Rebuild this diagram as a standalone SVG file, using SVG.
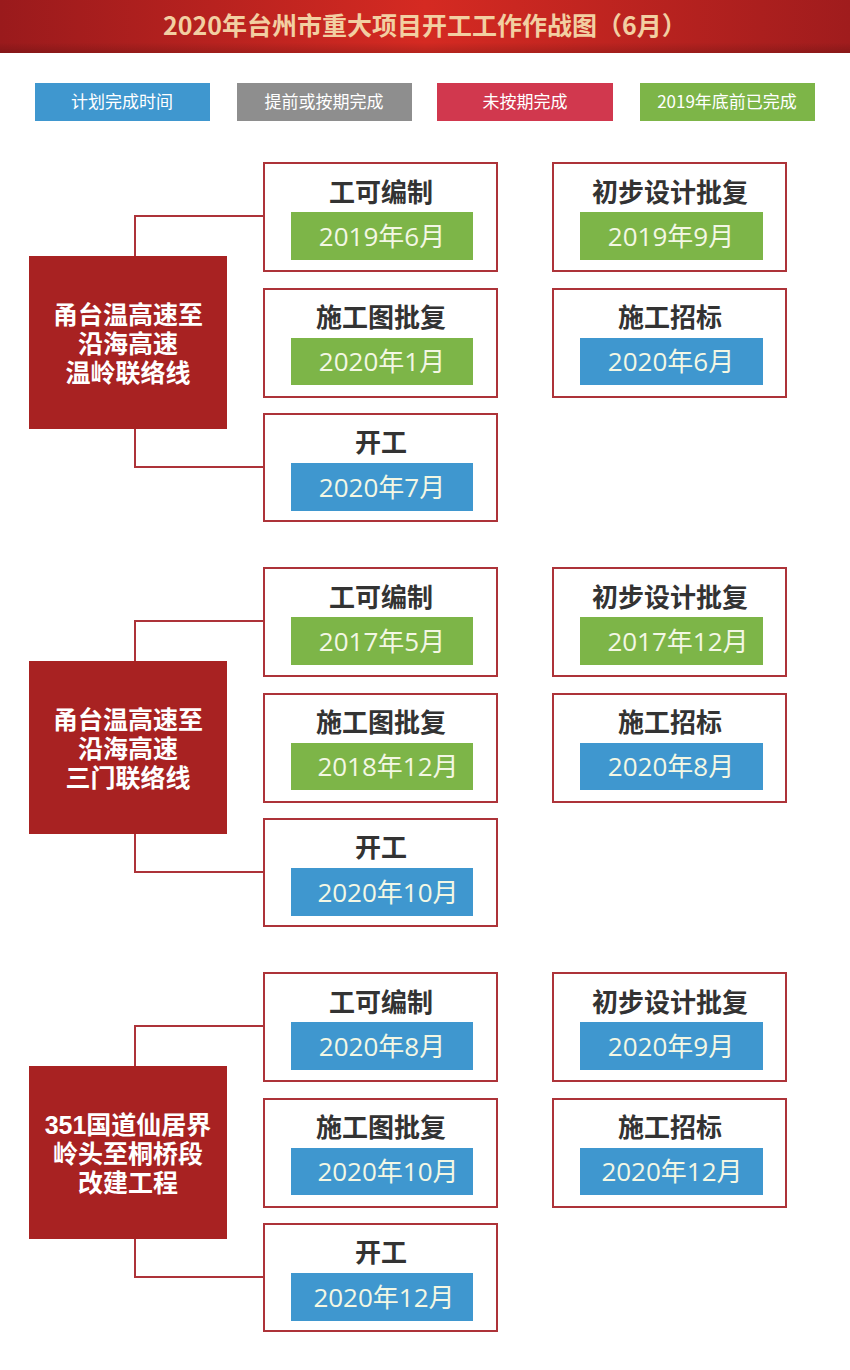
<svg xmlns="http://www.w3.org/2000/svg" width="850" height="1370" viewBox="0 0 850 1370">
<defs>
<linearGradient id="hdr" x1="0" y1="0" x2="1" y2="0">
<stop offset="0" stop-color="#9a1a1c"/>
<stop offset="0.5" stop-color="#d52a22"/>
<stop offset="1" stop-color="#a01c1d"/>
</linearGradient>
<linearGradient id="hdrshade" x1="0" y1="0" x2="0" y2="1">
<stop offset="0" stop-color="#000" stop-opacity="0"/>
<stop offset="0.8" stop-color="#000" stop-opacity="0"/>
<stop offset="1" stop-color="#000" stop-opacity="0.15"/>
</linearGradient>
</defs>
<style>
.box{fill:#fff;stroke:#ad3339;stroke-width:2}
.proj{fill:#a82222}
.lbl{font-family:"Noto Sans CJK SC","Noto Sans",sans-serif;font-weight:bold;font-size:26px;fill:#333;text-anchor:middle}
.date{font-family:"Open Sans","Noto Sans CJK SC",sans-serif;font-size:26px;fill:#f3f7e4;text-anchor:middle}
.ptxt{font-family:"Liberation Sans","Noto Sans CJK SC",sans-serif;font-weight:bold;font-size:25px;fill:#fff;text-anchor:middle}
.leg{font-family:"Noto Sans CJK SC","Noto Sans",sans-serif;font-size:17px;fill:#fff;text-anchor:middle}
.blue{fill:#3f97cf}
.green{fill:#7db548}
.gray{fill:#8e8e8e}
.pink{fill:#d1384e}
.conn{fill:none;stroke:#ad3339;stroke-width:2}
</style>
<rect width="850" height="1370" fill="#fff"/>
<g id="header">
<rect x="0" y="0" width="850" height="53" fill="url(#hdr)"/>
<rect x="0" y="0" width="850" height="53" fill="url(#hdrshade)"/>
<text x="425" y="35" font-family="Noto Sans CJK SC, Noto Sans, sans-serif" font-weight="bold" font-size="25" fill="#f2cfa2" text-anchor="middle">2020年台州市重大项目开工工作作战图（6月）</text>
</g>
<g id="legend">
<rect class="blue" x="35" y="83" width="175" height="38"/>
<text class="leg" x="122" y="108">计划完成时间</text>
<rect class="gray" x="237" y="83" width="175" height="38"/>
<text class="leg" x="324" y="108">提前或按期完成</text>
<rect class="pink" x="437" y="83" width="176" height="38"/>
<text class="leg" x="525" y="108">未按期完成</text>
<rect class="green" x="640" y="83" width="175" height="38"/>
<text class="leg" x="727" y="108">2019年底前已完成</text>
</g>
<g id="connectors">
<polyline class="conn" points="264,216 135,216 135,256"/>
<polyline class="conn" points="135,429 135,467 264,467"/>
<polyline class="conn" points="264,621 135,621 135,661"/>
<polyline class="conn" points="135,834 135,872 264,872"/>
<polyline class="conn" points="264,1026 135,1026 135,1066"/>
<polyline class="conn" points="135,1239 135,1277 264,1277"/>
</g>
<!-- Section 1 -->
<g id="p1">
<rect class="proj" x="29" y="256" width="198" height="173"/>
<text class="ptxt" x="128" y="324">甬台温高速至</text>
<text class="ptxt" x="128" y="353">沿海高速</text>
<text class="ptxt" x="128" y="382">温岭联络线</text>
</g>
<g id="p1-gk">
<rect class="box" x="264" y="163" width="233" height="108"/>
<text class="lbl" x="381" y="202">工可编制</text>
<rect class="green" x="291" y="212" width="182" height="48"/>
<text class="date" x="382" y="246">2019年6月</text>
</g>
<g id="p1-cb">
<rect class="box" x="553" y="163" width="233" height="108"/>
<text class="lbl" x="670" y="202">初步设计批复</text>
<rect class="green" x="580" y="212" width="183" height="48"/>
<text class="date" x="671" y="246">2019年9月</text>
</g>
<g id="p1-sg">
<rect class="box" x="264" y="289" width="233" height="108"/>
<text class="lbl" x="381" y="327">施工图批复</text>
<rect class="green" x="291" y="338" width="182" height="47"/>
<text class="date" x="382" y="371">2020年1月</text>
</g>
<g id="p1-zb">
<rect class="box" x="553" y="289" width="233" height="108"/>
<text class="lbl" x="670" y="327">施工招标</text>
<rect class="blue" x="580" y="338" width="183" height="47"/>
<text class="date" x="671" y="371">2020年6月</text>
</g>
<g id="p1-kg">
<rect class="box" x="264" y="414" width="233" height="107"/>
<text class="lbl" x="381" y="452">开工</text>
<rect class="blue" x="291" y="463" width="182" height="48"/>
<text class="date" x="382" y="497">2020年7月</text>
</g>
<!-- Section 2 -->
<g id="p2">
<rect class="proj" x="29" y="661" width="198" height="173"/>
<text class="ptxt" x="128" y="729">甬台温高速至</text>
<text class="ptxt" x="128" y="758">沿海高速</text>
<text class="ptxt" x="128" y="787">三门联络线</text>
</g>
<g id="p2-gk">
<rect class="box" x="264" y="568" width="233" height="108"/>
<text class="lbl" x="381" y="607">工可编制</text>
<rect class="green" x="291" y="617" width="182" height="48"/>
<text class="date" x="382" y="651">2017年5月</text>
</g>
<g id="p2-cb">
<rect class="box" x="553" y="568" width="233" height="108"/>
<text class="lbl" x="670" y="607">初步设计批复</text>
<rect class="green" x="580" y="617" width="183" height="48"/>
<text class="date" x="678" y="651">2017年12月</text>
</g>
<g id="p2-sg">
<rect class="box" x="264" y="694" width="233" height="108"/>
<text class="lbl" x="381" y="732">施工图批复</text>
<rect class="green" x="291" y="743" width="182" height="47"/>
<text class="date" x="388" y="776">2018年12月</text>
</g>
<g id="p2-zb">
<rect class="box" x="553" y="694" width="233" height="108"/>
<text class="lbl" x="670" y="732">施工招标</text>
<rect class="blue" x="580" y="743" width="183" height="47"/>
<text class="date" x="671" y="776">2020年8月</text>
</g>
<g id="p2-kg">
<rect class="box" x="264" y="819" width="233" height="107"/>
<text class="lbl" x="381" y="857">开工</text>
<rect class="blue" x="291" y="868" width="182" height="48"/>
<text class="date" x="388" y="902">2020年10月</text>
</g>
<!-- Section 3 -->
<g id="p3">
<rect class="proj" x="29" y="1066" width="198" height="173"/>
<text class="ptxt" x="128" y="1134">351国道仙居界</text>
<text class="ptxt" x="128" y="1163">岭头至桐桥段</text>
<text class="ptxt" x="128" y="1192">改建工程</text>
</g>
<g id="p3-gk">
<rect class="box" x="264" y="973" width="233" height="108"/>
<text class="lbl" x="381" y="1012">工可编制</text>
<rect class="blue" x="291" y="1022" width="182" height="48"/>
<text class="date" x="382" y="1056">2020年8月</text>
</g>
<g id="p3-cb">
<rect class="box" x="553" y="973" width="233" height="108"/>
<text class="lbl" x="670" y="1012">初步设计批复</text>
<rect class="blue" x="580" y="1022" width="183" height="48"/>
<text class="date" x="671" y="1056">2020年9月</text>
</g>
<g id="p3-sg">
<rect class="box" x="264" y="1099" width="233" height="108"/>
<text class="lbl" x="381" y="1137">施工图批复</text>
<rect class="blue" x="291" y="1148" width="182" height="47"/>
<text class="date" x="388" y="1181">2020年10月</text>
</g>
<g id="p3-zb">
<rect class="box" x="553" y="1099" width="233" height="108"/>
<text class="lbl" x="670" y="1137">施工招标</text>
<rect class="blue" x="580" y="1148" width="183" height="47"/>
<text class="date" x="672" y="1181">2020年12月</text>
</g>
<g id="p3-kg">
<rect class="box" x="264" y="1224" width="233" height="107"/>
<text class="lbl" x="381" y="1262">开工</text>
<rect class="blue" x="291" y="1273" width="182" height="48"/>
<text class="date" x="384" y="1307">2020年12月</text>
</g>
</svg>
